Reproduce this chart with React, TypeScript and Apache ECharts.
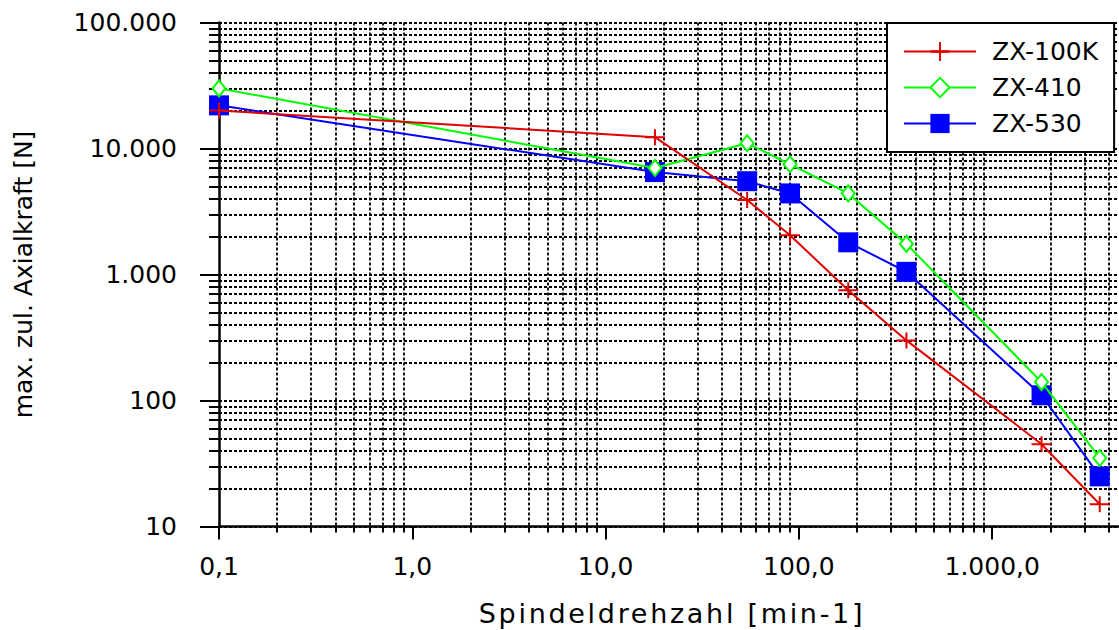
import React, { useEffect, useRef } from "react";
import * as echarts from "echarts";

const rpm = [0.1, 18, 54, 90, 180, 360, 1800, 3600];
const zx100k = [20000, 12300, 3900, 2050, 750, 300, 45, 15];
const zx410 = [30000, 7000, 11000, 7500, 4400, 1750, 140, 35];
const zx530 = [22000, 6500, 5500, 4400, 1800, 1050, 110, 25];
const names = ["ZX-100K", "ZX-410", "ZX-530"];
const colors = ["#e00000", "#00ff00", "#0000ff"];
const xName = "Spindeldrehzahl [min-1]";
const yName = "max. zul. Axialkraft [N]";
const xLabelMax = 1000;

const FONT = "DejaVu Sans";

function isDecade(v: number) {
  const l = Math.log10(v);
  return Math.abs(l - Math.round(l)) < 1e-6;
}
function thousands(n: number) {
  return String(Math.round(n)).replace(/\B(?=(\d{3})+(?!\d))/g, ".");
}
function fmtX(v: number) {
  if (!isDecade(v) || v > xLabelMax) return "";
  if (v < 1) return v.toFixed(1).replace(".", ",");
  return thousands(v) + ",0";
}
function fmtY(v: number) {
  if (!isDecade(v)) return "";
  return thousands(v);
}

export default function App() {
  const ref = useRef<HTMLDivElement>(null);
  useEffect(() => {
    const chart = echarts.init(ref.current!, null, { renderer: "svg" });
    const dotted = { color: "#000", width: 1.8, type: [3, 2] as number[] };
    const axisLine = { show: true, lineStyle: { color: "#000", width: 2.5 } };
    const label = { color: "#000", fontSize: 25, fontFamily: FONT };
    const pair = (ys: number[]) => rpm.map((x, i) => [x, ys[i]]);
    chart.setOption({
      animation: false,
      backgroundColor: "#fff",
      grid: {
        left: 219,
        top: 22.5,
        width: 966.5,
        height: 504,
        containLabel: false,
        outerBoundsMode: "none",
      },
      xAxis: {
        type: "log",
        logBase: 10,
        min: 0.1,
        max: 10000,
        axisLine,
        axisTick: { show: true, inside: false, length: 13, lineStyle: { color: "#000", width: 2 } },
        minorTick: { show: true, splitNumber: 9, length: 6, lineStyle: { color: "#000", width: 2 } },
        splitLine: { show: false },
        minorSplitLine: { show: true, lineStyle: dotted },
        axisLabel: { ...label, margin: 27, formatter: fmtX, showMinLabel: true, showMaxLabel: false },
      },
      yAxis: {
        type: "log",
        logBase: 10,
        min: 10,
        max: 100000,
        axisLine,
        axisTick: { show: true, inside: false, length: 19, lineStyle: { color: "#000", width: 2 } },
        minorTick: { show: true, splitNumber: 9, length: 10, lineStyle: { color: "#000", width: 2 } },
        splitLine: { show: true, lineStyle: dotted },
        minorSplitLine: { show: true, lineStyle: dotted },
        axisLabel: { ...label, margin: 42, formatter: fmtY },
        name: yName,
        nameLocation: "middle",
        nameGap: 183,
        nameTextStyle: { color: "#000", fontSize: 25, fontFamily: FONT },
      },
      legend: {
        data: names,
        orient: "vertical",
        left: 887,
        top: 23,
        itemWidth: 72,
        itemHeight: 24,
        itemGap: 11,
        padding: 16,
        backgroundColor: "#fff",
        borderColor: "#000",
        borderWidth: 2,
        selectedMode: false,
        textStyle: { color: "#000", fontSize: 25, fontFamily: FONT, padding: [0, 0, 0, 11], width: 117 },
      },
      graphic: [
        {
          type: "text",
          x: 672,
          y: 613,
          style: { text: xName, align: "center", verticalAlign: "middle", fontSize: 27, fontFamily: FONT, fill: "#000" },
        },
      ],
      series: [
        {
          name: names[2],
          type: "line",
          data: pair(zx530),
          symbol: "rect",
          symbolSize: 20,
          itemStyle: { color: colors[2] },
          lineStyle: { color: colors[2], width: 2 },
          z: 3,
        },
        {
          name: names[1],
          type: "line",
          data: pair(zx410),
          symbol: "diamond",
          symbolSize: [13, 16],
          itemStyle: { color: "#fff", borderColor: colors[1], borderWidth: 2 },
          lineStyle: { color: colors[1], width: 2 },
          z: 4,
        },
        {
          name: names[0],
          type: "line",
          data: pair(zx100k),
          symbol: "path://M0,7H20V9H0Z M9,0H11V16H9Z",
          symbolSize: [20, 16],
          itemStyle: { color: colors[0] },
          lineStyle: { color: colors[0], width: 2 },
          z: 5,
        },
      ],
    });
    // widen the letter spacing of the horizontal axis title, as in the reference
    const texts = ref.current!.querySelectorAll("text");
    texts.forEach((t) => {
      if (t.textContent === xName) {
        (t as SVGTextElement).style.letterSpacing = "2.7px";
      }
    });
    return () => chart.dispose();
  }, []);
  return (
    <div
      style={{
        position: "absolute",
        left: 0,
        top: 0,
        width: 1119,
        height: 630,
        overflow: "hidden",
        background: "#fff",
      }}
    >
      <div ref={ref} style={{ width: 1300, height: 630 }} />
    </div>
  );
}
